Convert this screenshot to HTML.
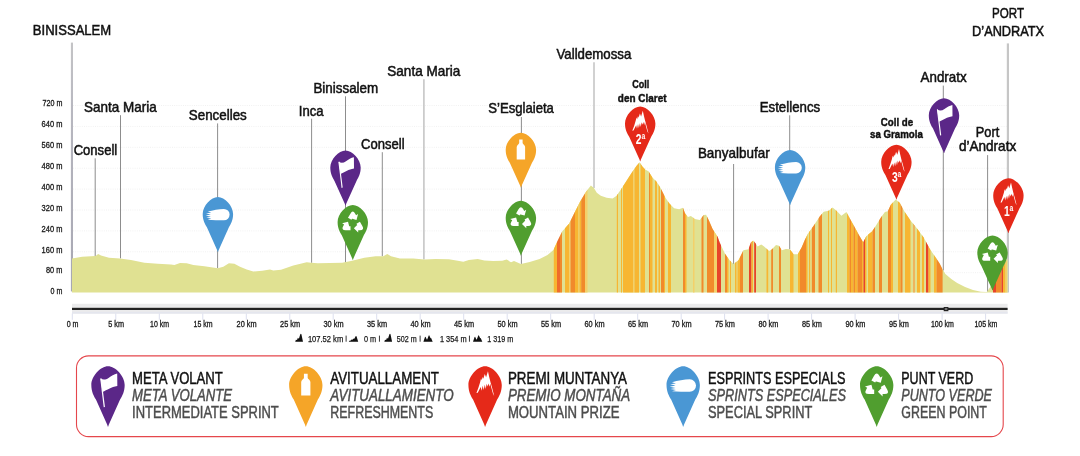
<!DOCTYPE html>
<html lang="ca"><head><meta charset="utf-8"><title>Perfil etapa Binissalem - Port d'Andratx</title>
<style>html,body{margin:0;padding:0;background:#fff}body{width:1080px;height:456px;overflow:hidden}svg{display:block}text{font-family:"Liberation Sans",Arial,sans-serif}</style></head><body>
<svg width="1080" height="456" viewBox="0 0 1080 456">
<defs>
<clipPath id="prof"><polygon points="72.0,258.4 82.2,256.7 95.5,256 98.2,254 101,255.5 109,257.8 120,258.4 131,260 144.4,262.7 157.8,263.8 171,264.4 174.4,265.1 180,262.9 186.7,263.3 193.3,264.9 204.4,266.2 217.8,268.2 223.3,266.7 228.9,263.3 234.4,263.8 240,266.7 246.7,269.6 253.3,271.6 262.2,270.7 270,269.6 273.3,270.4 281,269.8 293.3,265.6 306.7,262.2 311,262.7 317.8,263.3 342.2,262.7 351,261.1 364.4,257.8 375.6,256.2 383.3,256.2 387.3,254 391,256.2 400,258.4 413.3,258.4 424.4,259.6 435.6,258.9 448.9,259.3 457.8,260.7 463.3,261.8 468.9,260 477.8,258.9 484.4,260.4 493.3,261.1 502.2,260.7 506.7,259.6 511,262.2 514,260.9 520.9,263.9 529.7,261.9 539.6,258.9 547.5,255 553.4,250 557.4,241.2 562.3,231.3 569.2,223.4 575.1,211.6 580,201.7 586,191.8 590.9,185.5 593.9,187.9 596.8,192.8 600.8,195.8 606.7,197.8 612.6,198.4 616.6,195.8 620.5,189.9 624.8,183.6 631.7,172.7 636.6,165.8 639.6,162.2 642.6,166.8 645.5,169.7 648.5,171.3 652.4,177.6 656.4,181.6 660.3,187.5 665.3,197.4 669.2,203.3 674.1,208.2 679.1,209.2 683,207.8 685,213.2 688,217.1 690.9,216.1 694.9,219.1 699.8,220.1 703.7,215.1 706.1,214.7 708.7,220.1 712.6,228.9 717.6,236.8 719.7,242.4 724.7,253.3 729.6,260.2 733.6,264.1 738.5,260.2 743.4,250.3 748.4,249.3 750.9,242.4 753.3,240.5 755.7,243.4 757.6,246.4 761.2,244.4 764.1,246.4 769.1,250.9 772,249.3 776,245 779,245.8 781.9,250.3 785.9,248.9 789.8,249.3 793.7,254.3 797.7,254.3 801.6,247.4 805,239.5 808,233.4 813.8,225.5 819.7,216.6 823.7,211.7 828.6,210.7 832.6,207.4 836.5,210.7 841.4,215.7 846.4,212.1 849.3,217.6 854.3,226.5 859.2,235.4 863.2,242.3 866.1,236.4 869.1,233.8 872,231.4 876,225.5 880.9,217.6 884.9,212.1 887.8,211.3 890.8,204.8 895.7,199.5 899.7,202.8 904.6,211.7 910.5,220.6 915.5,226.5 920,232.4 923.7,237.6 929.6,248.4 935.5,257.3 939.5,263.2 942.4,269.1 945.4,274.1 951.3,279 957.2,283 965.1,286.9 973,289.9 980.9,291.8 986.8,292 993,283 1000,271 1007.8,258.5 1007.8,292.5 72.0,292.5"/></clipPath>
<path id="pin" d="M0,55 Q-0.35,54.7 -0.6,53.4 L-11,30.3 C-13,27 -15.2,23 -15.2,17 C-15.2,9 -6.8,0 0,0 C6.8,0 15.2,9 15.2,17 C15.2,23 13,27 11,30.3 L0.6,53.4 Q0.35,54.7 0,55Z"/>
<g id="ic-flag" fill="#fff"><path d="M-7.1,11.3 L-6,11 L-2.8,37 L-3.9,37.3Z"/><path d="M-6.7,11.2 C-4.5,12.6 -2,12.4 0.5,10.6 C3,8.8 5.5,7.2 8.4,6.6 L8.5,18 C5.5,18.6 3.4,19.2 1.5,20.2 C-1,21.4 -3,22.4 -5,23.4Z"/></g>
<g id="ic-bottle" fill="#fff"><path d="M-1.7,6.8 h3.4 v3.6 c0,1.2 2.5,2 2.5,4 v12.3 h-8.4 v-12.3 c0,-2 2.5,-2.8 2.5,-4Z"/></g>
<g id="ic-comet" fill="#fff"><path d="M6,11.9 a5.7,5.7 0 0 1 0,11.4 C1,23.3 -5,23.2 -10.2,22.8 L-6.6,21.6 L-11.6,20.7 L-7,19.7 L-12.2,18.6 L-7,17.6 L-11.9,16.4 L-6.6,15.6 L-10.2,14.5 C-5,13.2 1,11.9 6,11.9Z"/></g>
<g id="ic-mount" fill="#fff"><path d="M2.6,4.4 L3.8,9.9 L5,14.7 L6.2,18.9 L8.3,27 L7.2,25 L5.8,20 L4.7,15.9 L3.95,18.6 L3.05,15.6 L2.15,18.3 L1.4,15.8 L0.6,20.6 L-0.3,16.8 L-1.3,21.6 L-2.2,17.7 L-3.2,22.4 L-4.0,18.9 L-6.7,24.2 L-7.9,24.4 L-6.1,19.5 L-4.6,14.7 L-3.7,11.1 L-3.1,12.8 L-2.2,9.7 L-1.6,11.4 L-0.3,7.1 L0.9,10Z"/></g>
<g id="ic-rec" fill="#fff"><path d="M-4.83,12.87L-2.40,8.66Q0.00,4.50 2.40,8.66L3.28,10.18L5.27,9.03L3.70,14.91L-2.17,13.33L-0.18,12.18L0.00,12.50L-1.37,14.87ZM7.12,16.83L9.55,21.04Q11.95,25.20 7.15,25.20L5.39,25.20L5.39,27.50L1.09,23.20L5.39,18.90L5.39,21.20L5.02,21.20L3.66,18.83ZM-2.29,25.20L-7.15,25.20Q-11.95,25.20 -9.55,21.04L-8.67,19.52L-10.66,18.37L-4.79,16.79L-3.21,22.67L-5.21,21.52L-5.02,21.20L-2.29,21.20Z"/></g>
</defs>
<rect width="1080" height="456" fill="#fff"/>
<line x1="73" x2="1007" y1="105.5" y2="105.5" stroke="#f1f1f1" stroke-width="1" stroke-dasharray="1,1.2"/>
<line x1="73" x2="1007" y1="126.4" y2="126.4" stroke="#f1f1f1" stroke-width="1" stroke-dasharray="1,1.2"/>
<line x1="73" x2="1007" y1="147.3" y2="147.3" stroke="#f1f1f1" stroke-width="1" stroke-dasharray="1,1.2"/>
<line x1="73" x2="1007" y1="168.2" y2="168.2" stroke="#f1f1f1" stroke-width="1" stroke-dasharray="1,1.2"/>
<line x1="73" x2="1007" y1="189.1" y2="189.1" stroke="#f1f1f1" stroke-width="1" stroke-dasharray="1,1.2"/>
<line x1="73" x2="1007" y1="210.0" y2="210.0" stroke="#f1f1f1" stroke-width="1" stroke-dasharray="1,1.2"/>
<line x1="73" x2="1007" y1="230.9" y2="230.9" stroke="#f1f1f1" stroke-width="1" stroke-dasharray="1,1.2"/>
<line x1="73" x2="1007" y1="251.8" y2="251.8" stroke="#f1f1f1" stroke-width="1" stroke-dasharray="1,1.2"/>
<line x1="73" x2="1007" y1="272.7" y2="272.7" stroke="#f1f1f1" stroke-width="1" stroke-dasharray="1,1.2"/>
<linearGradient id="sl" x1="0" y1="42" x2="0" y2="292" gradientUnits="userSpaceOnUse"><stop offset="0" stop-color="#c4c4c6"/><stop offset="0.25" stop-color="#b8b8c0"/><stop offset="1" stop-color="#a6a6b2"/></linearGradient>
<rect x="70.9" y="42.6" width="2.1" height="248.8" fill="url(#sl)"/>
<line x1="423.9" x2="423.9" y1="79.3" y2="259.5" stroke="#c6c6c6" stroke-width="1.6"/>
<line x1="594" x2="594" y1="62.3" y2="188" stroke="#c6c6c6" stroke-width="1.6"/>
<line x1="1007.9" x2="1007.9" y1="43.4" y2="292.5" stroke="#c6c6c6" stroke-width="2.2"/>
<line x1="95.2" x2="95.2" y1="158.3" y2="256" stroke="#707070" stroke-width="0.8"/>
<line x1="120.5" x2="120.5" y1="115.2" y2="258.4" stroke="#707070" stroke-width="0.8"/>
<line x1="217.6" x2="217.6" y1="123.4" y2="268.2" stroke="#707070" stroke-width="0.8"/>
<line x1="311.6" x2="311.6" y1="118.7" y2="262.8" stroke="#707070" stroke-width="0.8"/>
<line x1="345.5" x2="345.5" y1="96.3" y2="262.6" stroke="#707070" stroke-width="0.8"/>
<line x1="382.3" x2="382.3" y1="152.2" y2="256.2" stroke="#707070" stroke-width="0.8"/>
<line x1="521.4" x2="521.4" y1="117" y2="263.9" stroke="#707070" stroke-width="0.8"/>
<line x1="733.6" x2="733.6" y1="164" y2="264.1" stroke="#707070" stroke-width="0.8"/>
<line x1="789.7" x2="789.7" y1="115.3" y2="249.3" stroke="#707070" stroke-width="0.8"/>
<line x1="943.3" x2="943.3" y1="85.6" y2="270.5" stroke="#707070" stroke-width="0.8"/>
<line x1="987.6" x2="987.6" y1="155.1" y2="292" stroke="#707070" stroke-width="0.8"/>
<polygon points="72.0,258.4 82.2,256.7 95.5,256 98.2,254 101,255.5 109,257.8 120,258.4 131,260 144.4,262.7 157.8,263.8 171,264.4 174.4,265.1 180,262.9 186.7,263.3 193.3,264.9 204.4,266.2 217.8,268.2 223.3,266.7 228.9,263.3 234.4,263.8 240,266.7 246.7,269.6 253.3,271.6 262.2,270.7 270,269.6 273.3,270.4 281,269.8 293.3,265.6 306.7,262.2 311,262.7 317.8,263.3 342.2,262.7 351,261.1 364.4,257.8 375.6,256.2 383.3,256.2 387.3,254 391,256.2 400,258.4 413.3,258.4 424.4,259.6 435.6,258.9 448.9,259.3 457.8,260.7 463.3,261.8 468.9,260 477.8,258.9 484.4,260.4 493.3,261.1 502.2,260.7 506.7,259.6 511,262.2 514,260.9 520.9,263.9 529.7,261.9 539.6,258.9 547.5,255 553.4,250 557.4,241.2 562.3,231.3 569.2,223.4 575.1,211.6 580,201.7 586,191.8 590.9,185.5 593.9,187.9 596.8,192.8 600.8,195.8 606.7,197.8 612.6,198.4 616.6,195.8 620.5,189.9 624.8,183.6 631.7,172.7 636.6,165.8 639.6,162.2 642.6,166.8 645.5,169.7 648.5,171.3 652.4,177.6 656.4,181.6 660.3,187.5 665.3,197.4 669.2,203.3 674.1,208.2 679.1,209.2 683,207.8 685,213.2 688,217.1 690.9,216.1 694.9,219.1 699.8,220.1 703.7,215.1 706.1,214.7 708.7,220.1 712.6,228.9 717.6,236.8 719.7,242.4 724.7,253.3 729.6,260.2 733.6,264.1 738.5,260.2 743.4,250.3 748.4,249.3 750.9,242.4 753.3,240.5 755.7,243.4 757.6,246.4 761.2,244.4 764.1,246.4 769.1,250.9 772,249.3 776,245 779,245.8 781.9,250.3 785.9,248.9 789.8,249.3 793.7,254.3 797.7,254.3 801.6,247.4 805,239.5 808,233.4 813.8,225.5 819.7,216.6 823.7,211.7 828.6,210.7 832.6,207.4 836.5,210.7 841.4,215.7 846.4,212.1 849.3,217.6 854.3,226.5 859.2,235.4 863.2,242.3 866.1,236.4 869.1,233.8 872,231.4 876,225.5 880.9,217.6 884.9,212.1 887.8,211.3 890.8,204.8 895.7,199.5 899.7,202.8 904.6,211.7 910.5,220.6 915.5,226.5 920,232.4 923.7,237.6 929.6,248.4 935.5,257.3 939.5,263.2 942.4,269.1 945.4,274.1 951.3,279 957.2,283 965.1,286.9 973,289.9 980.9,291.8 986.8,292 993,283 1000,271 1007.8,258.5 1007.8,292.5 72.0,292.5" fill="#e0e192"/>
<g clip-path="url(#prof)">
<rect x="553.8" y="150" width="3.20" height="143" fill="#f7b632"/>
<rect x="557" y="150" width="3.00" height="143" fill="#ee6c2b"/>
<rect x="560" y="150" width="2.00" height="143" fill="#f18a2b"/>
<rect x="565" y="150" width="4.00" height="143" fill="#f7b632"/>
<rect x="569" y="150" width="1.50" height="143" fill="#f3d06a"/>
<rect x="570.5" y="150" width="4.50" height="143" fill="#f18a2b"/>
<rect x="575" y="150" width="3.50" height="143" fill="#f7b632"/>
<rect x="578.5" y="150" width="1.00" height="143" fill="#f3d06a"/>
<rect x="579.5" y="150" width="1.70" height="143" fill="#f7b632"/>
<rect x="581.2" y="150" width="3.80" height="143" fill="#f18a2b"/>
<rect x="585" y="150" width="2.50" height="143" fill="#f3d06a"/>
<rect x="616.8" y="150" width="1.20" height="143" fill="#f7b632"/>
<rect x="621" y="150" width="1.00" height="143" fill="#f7b632"/>
<rect x="623" y="150" width="10.00" height="143" fill="#f7b632"/>
<rect x="633" y="150" width="1.50" height="143" fill="#f3d06a"/>
<rect x="634.5" y="150" width="4.50" height="143" fill="#f7b632"/>
<rect x="640.5" y="150" width="4.50" height="143" fill="#f7b632"/>
<rect x="649" y="150" width="1.00" height="143" fill="#f18a2b"/>
<rect x="650" y="150" width="2.50" height="143" fill="#f7b632"/>
<rect x="655" y="150" width="2.00" height="143" fill="#f7b632"/>
<rect x="658.5" y="150" width="1.50" height="143" fill="#f7b632"/>
<rect x="661" y="150" width="3.00" height="143" fill="#f18a2b"/>
<rect x="664" y="150" width="1.00" height="143" fill="#f7b632"/>
<rect x="668" y="150" width="3.00" height="143" fill="#f7b632"/>
<rect x="683" y="150" width="2.00" height="143" fill="#f18a2b"/>
<rect x="685" y="150" width="1.50" height="143" fill="#f7b632"/>
<rect x="693" y="150" width="1.50" height="143" fill="#f3d06a"/>
<rect x="701.5" y="150" width="2.00" height="143" fill="#f18a2b"/>
<rect x="707" y="150" width="7.00" height="143" fill="#f18a2b"/>
<rect x="714" y="150" width="3.00" height="143" fill="#f3d06a"/>
<rect x="717" y="150" width="4.00" height="143" fill="#e8432a"/>
<rect x="725" y="150" width="2.00" height="143" fill="#f18a2b"/>
<rect x="727" y="150" width="1.50" height="143" fill="#f7b632"/>
<rect x="730" y="150" width="1.00" height="143" fill="#f7b632"/>
<rect x="735" y="150" width="1.50" height="143" fill="#f7b632"/>
<rect x="737.5" y="150" width="2.50" height="143" fill="#f7b632"/>
<rect x="740" y="150" width="3.00" height="143" fill="#f18a2b"/>
<rect x="749" y="150" width="2.50" height="143" fill="#e8432a"/>
<rect x="751.5" y="150" width="1.50" height="143" fill="#f7b632"/>
<rect x="754.2" y="150" width="1.80" height="143" fill="#e8432a"/>
<rect x="766.5" y="150" width="1.70" height="143" fill="#f7b632"/>
<rect x="771.2" y="150" width="1.80" height="143" fill="#f18a2b"/>
<rect x="779" y="150" width="2.00" height="143" fill="#f18a2b"/>
<rect x="790" y="150" width="3.50" height="143" fill="#f7b632"/>
<rect x="798" y="150" width="2.00" height="143" fill="#f7b632"/>
<rect x="800" y="150" width="6.00" height="143" fill="#f18a2b"/>
<rect x="806" y="150" width="1.50" height="143" fill="#f7b632"/>
<rect x="809" y="150" width="1.20" height="143" fill="#f7b632"/>
<rect x="811.8" y="150" width="3.20" height="143" fill="#f18a2b"/>
<rect x="818.5" y="150" width="3.50" height="143" fill="#f18a2b"/>
<rect x="828" y="150" width="1.00" height="143" fill="#f7b632"/>
<rect x="831" y="150" width="1.00" height="143" fill="#f7b632"/>
<rect x="835.8" y="150" width="1.20" height="143" fill="#f7b632"/>
<rect x="847" y="150" width="2.50" height="143" fill="#f7b632"/>
<rect x="849.5" y="150" width="1.50" height="143" fill="#f18a2b"/>
<rect x="851" y="150" width="2.50" height="143" fill="#f7b632"/>
<rect x="853.5" y="150" width="1.50" height="143" fill="#f18a2b"/>
<rect x="855" y="150" width="2.50" height="143" fill="#f7b632"/>
<rect x="857.5" y="150" width="4.50" height="143" fill="#f18a2b"/>
<rect x="862" y="150" width="1.50" height="143" fill="#f7b632"/>
<rect x="863.5" y="150" width="1.50" height="143" fill="#e8432a"/>
<rect x="865" y="150" width="1.50" height="143" fill="#f7b632"/>
<rect x="868" y="150" width="4.50" height="143" fill="#f7b632"/>
<rect x="872.5" y="150" width="2.50" height="143" fill="#f18a2b"/>
<rect x="879" y="150" width="3.00" height="143" fill="#f18a2b"/>
<rect x="888" y="150" width="3.00" height="143" fill="#f18a2b"/>
<rect x="891" y="150" width="2.00" height="143" fill="#f7b632"/>
<rect x="898" y="150" width="2.50" height="143" fill="#f7b632"/>
<rect x="900.5" y="150" width="2.00" height="143" fill="#f18a2b"/>
<rect x="905" y="150" width="5.50" height="143" fill="#f7b632"/>
<rect x="913" y="150" width="2.00" height="143" fill="#eeb45e"/>
<rect x="917" y="150" width="3.00" height="143" fill="#f7b632"/>
<rect x="922" y="150" width="2.00" height="143" fill="#f7b632"/>
<rect x="926" y="150" width="2.50" height="143" fill="#e8432a"/>
<rect x="928.5" y="150" width="2.00" height="143" fill="#f7b632"/>
<rect x="934" y="150" width="2.50" height="143" fill="#f7b632"/>
<rect x="936.5" y="150" width="6.10" height="143" fill="#f18a2b"/>
<rect x="993" y="150" width="3.00" height="143" fill="#e8432a"/>
<rect x="996" y="150" width="5.50" height="143" fill="#f18a2b"/>
<rect x="1001.5" y="150" width="1.50" height="143" fill="#e8432a"/>
<rect x="1003" y="150" width="2.50" height="143" fill="#f7b632"/>
<rect x="1005.5" y="150" width="1.50" height="143" fill="#f3d06a"/>
</g>
<text x="62.4" y="106.4" font-size="8.3" text-anchor="end" textLength="19.8" lengthAdjust="spacingAndGlyphs" fill="#1a1a1a" stroke="#1a1a1a" stroke-width="0.3">720 m</text>
<text x="62.4" y="127.3" font-size="8.3" text-anchor="end" textLength="20.8" lengthAdjust="spacingAndGlyphs" fill="#1a1a1a" stroke="#1a1a1a" stroke-width="0.3">640 m</text>
<text x="62.4" y="148.1" font-size="8.3" text-anchor="end" textLength="20.8" lengthAdjust="spacingAndGlyphs" fill="#1a1a1a" stroke="#1a1a1a" stroke-width="0.3">560 m</text>
<text x="62.4" y="169.0" font-size="8.3" text-anchor="end" textLength="20.8" lengthAdjust="spacingAndGlyphs" fill="#1a1a1a" stroke="#1a1a1a" stroke-width="0.3">480 m</text>
<text x="62.4" y="189.9" font-size="8.3" text-anchor="end" textLength="20.8" lengthAdjust="spacingAndGlyphs" fill="#1a1a1a" stroke="#1a1a1a" stroke-width="0.3">400 m</text>
<text x="62.4" y="210.8" font-size="8.3" text-anchor="end" textLength="20.8" lengthAdjust="spacingAndGlyphs" fill="#1a1a1a" stroke="#1a1a1a" stroke-width="0.3">320 m</text>
<text x="62.4" y="231.6" font-size="8.3" text-anchor="end" textLength="20.8" lengthAdjust="spacingAndGlyphs" fill="#1a1a1a" stroke="#1a1a1a" stroke-width="0.3">240 m</text>
<text x="62.4" y="252.5" font-size="8.3" text-anchor="end" textLength="20.8" lengthAdjust="spacingAndGlyphs" fill="#1a1a1a" stroke="#1a1a1a" stroke-width="0.3">160 m</text>
<text x="62.4" y="273.4" font-size="8.3" text-anchor="end" textLength="16.4" lengthAdjust="spacingAndGlyphs" fill="#1a1a1a" stroke="#1a1a1a" stroke-width="0.3">80 m</text>
<text x="62.4" y="294.2" font-size="8.3" text-anchor="end" textLength="11.8" lengthAdjust="spacingAndGlyphs" fill="#1a1a1a" stroke="#1a1a1a" stroke-width="0.3">0 m</text>
<rect x="72" y="303.8" width="935.6" height="9.8" fill="#ebebec"/>
<rect x="72" y="311.8" width="935.6" height="1.8" fill="#e4e6ee"/>
<rect x="72" y="307.8" width="935.6" height="2.2" fill="#222"/>
<rect x="943.7" y="307" width="4.7" height="4.2" fill="#222"/><rect x="944.8" y="308.4" width="2.5" height="1.2" fill="#aaa"/>
<line x1="72.3" x2="72.3" y1="313.5" y2="319.8" stroke="#dcdfee" stroke-width="1"/>
<text x="72.6" y="326.8" font-size="8.3" text-anchor="middle" textLength="11.8" lengthAdjust="spacingAndGlyphs" fill="#1a1a1a" stroke="#1a1a1a" stroke-width="0.3">0 m</text>
<line x1="115.8" x2="115.8" y1="313.5" y2="319.8" stroke="#dcdfee" stroke-width="1"/>
<text x="116.1" y="326.8" font-size="8.3" text-anchor="middle" textLength="15.8" lengthAdjust="spacingAndGlyphs" fill="#1a1a1a" stroke="#1a1a1a" stroke-width="0.3">5 km</text>
<line x1="159.3" x2="159.3" y1="313.5" y2="319.8" stroke="#dcdfee" stroke-width="1"/>
<text x="159.6" y="326.8" font-size="8.3" text-anchor="middle" textLength="19.0" lengthAdjust="spacingAndGlyphs" fill="#1a1a1a" stroke="#1a1a1a" stroke-width="0.3">10 km</text>
<line x1="202.8" x2="202.8" y1="313.5" y2="319.8" stroke="#dcdfee" stroke-width="1"/>
<text x="203.1" y="326.8" font-size="8.3" text-anchor="middle" textLength="19.0" lengthAdjust="spacingAndGlyphs" fill="#1a1a1a" stroke="#1a1a1a" stroke-width="0.3">15 km</text>
<line x1="246.3" x2="246.3" y1="313.5" y2="319.8" stroke="#dcdfee" stroke-width="1"/>
<text x="246.6" y="326.8" font-size="8.3" text-anchor="middle" textLength="20.0" lengthAdjust="spacingAndGlyphs" fill="#1a1a1a" stroke="#1a1a1a" stroke-width="0.3">20 km</text>
<line x1="289.8" x2="289.8" y1="313.5" y2="319.8" stroke="#dcdfee" stroke-width="1"/>
<text x="290.1" y="326.8" font-size="8.3" text-anchor="middle" textLength="20.0" lengthAdjust="spacingAndGlyphs" fill="#1a1a1a" stroke="#1a1a1a" stroke-width="0.3">25 km</text>
<line x1="333.2" x2="333.2" y1="313.5" y2="319.8" stroke="#dcdfee" stroke-width="1"/>
<text x="333.5" y="326.8" font-size="8.3" text-anchor="middle" textLength="20.0" lengthAdjust="spacingAndGlyphs" fill="#1a1a1a" stroke="#1a1a1a" stroke-width="0.3">30 km</text>
<line x1="376.7" x2="376.7" y1="313.5" y2="319.8" stroke="#dcdfee" stroke-width="1"/>
<text x="377.0" y="326.8" font-size="8.3" text-anchor="middle" textLength="20.0" lengthAdjust="spacingAndGlyphs" fill="#1a1a1a" stroke="#1a1a1a" stroke-width="0.3">35 km</text>
<line x1="420.2" x2="420.2" y1="313.5" y2="319.8" stroke="#dcdfee" stroke-width="1"/>
<text x="420.5" y="326.8" font-size="8.3" text-anchor="middle" textLength="20.0" lengthAdjust="spacingAndGlyphs" fill="#1a1a1a" stroke="#1a1a1a" stroke-width="0.3">40 km</text>
<line x1="463.7" x2="463.7" y1="313.5" y2="319.8" stroke="#dcdfee" stroke-width="1"/>
<text x="464.0" y="326.8" font-size="8.3" text-anchor="middle" textLength="20.0" lengthAdjust="spacingAndGlyphs" fill="#1a1a1a" stroke="#1a1a1a" stroke-width="0.3">45 km</text>
<line x1="507.2" x2="507.2" y1="313.5" y2="319.8" stroke="#dcdfee" stroke-width="1"/>
<text x="507.5" y="326.8" font-size="8.3" text-anchor="middle" textLength="20.0" lengthAdjust="spacingAndGlyphs" fill="#1a1a1a" stroke="#1a1a1a" stroke-width="0.3">50 km</text>
<line x1="550.7" x2="550.7" y1="313.5" y2="319.8" stroke="#dcdfee" stroke-width="1"/>
<text x="551.0" y="326.8" font-size="8.3" text-anchor="middle" textLength="20.0" lengthAdjust="spacingAndGlyphs" fill="#1a1a1a" stroke="#1a1a1a" stroke-width="0.3">55 km</text>
<line x1="594.2" x2="594.2" y1="313.5" y2="319.8" stroke="#dcdfee" stroke-width="1"/>
<text x="594.5" y="326.8" font-size="8.3" text-anchor="middle" textLength="20.0" lengthAdjust="spacingAndGlyphs" fill="#1a1a1a" stroke="#1a1a1a" stroke-width="0.3">60 km</text>
<line x1="637.7" x2="637.7" y1="313.5" y2="319.8" stroke="#dcdfee" stroke-width="1"/>
<text x="638.0" y="326.8" font-size="8.3" text-anchor="middle" textLength="20.0" lengthAdjust="spacingAndGlyphs" fill="#1a1a1a" stroke="#1a1a1a" stroke-width="0.3">65 km</text>
<line x1="681.2" x2="681.2" y1="313.5" y2="319.8" stroke="#dcdfee" stroke-width="1"/>
<text x="681.5" y="326.8" font-size="8.3" text-anchor="middle" textLength="20.0" lengthAdjust="spacingAndGlyphs" fill="#1a1a1a" stroke="#1a1a1a" stroke-width="0.3">70 km</text>
<line x1="724.6" x2="724.6" y1="313.5" y2="319.8" stroke="#dcdfee" stroke-width="1"/>
<text x="724.9" y="326.8" font-size="8.3" text-anchor="middle" textLength="20.0" lengthAdjust="spacingAndGlyphs" fill="#1a1a1a" stroke="#1a1a1a" stroke-width="0.3">75 km</text>
<line x1="768.1" x2="768.1" y1="313.5" y2="319.8" stroke="#dcdfee" stroke-width="1"/>
<text x="768.4" y="326.8" font-size="8.3" text-anchor="middle" textLength="20.0" lengthAdjust="spacingAndGlyphs" fill="#1a1a1a" stroke="#1a1a1a" stroke-width="0.3">80 km</text>
<line x1="811.6" x2="811.6" y1="313.5" y2="319.8" stroke="#dcdfee" stroke-width="1"/>
<text x="811.9" y="326.8" font-size="8.3" text-anchor="middle" textLength="20.0" lengthAdjust="spacingAndGlyphs" fill="#1a1a1a" stroke="#1a1a1a" stroke-width="0.3">85 km</text>
<line x1="855.1" x2="855.1" y1="313.5" y2="319.8" stroke="#dcdfee" stroke-width="1"/>
<text x="855.4" y="326.8" font-size="8.3" text-anchor="middle" textLength="20.0" lengthAdjust="spacingAndGlyphs" fill="#1a1a1a" stroke="#1a1a1a" stroke-width="0.3">90 km</text>
<line x1="898.6" x2="898.6" y1="313.5" y2="319.8" stroke="#dcdfee" stroke-width="1"/>
<text x="898.9" y="326.8" font-size="8.3" text-anchor="middle" textLength="20.0" lengthAdjust="spacingAndGlyphs" fill="#1a1a1a" stroke="#1a1a1a" stroke-width="0.3">95 km</text>
<line x1="942.1" x2="942.1" y1="313.5" y2="319.8" stroke="#dcdfee" stroke-width="1"/>
<text x="942.4" y="326.8" font-size="8.3" text-anchor="middle" textLength="23.0" lengthAdjust="spacingAndGlyphs" fill="#1a1a1a" stroke="#1a1a1a" stroke-width="0.3">100 km</text>
<line x1="985.6" x2="985.6" y1="313.5" y2="319.8" stroke="#dcdfee" stroke-width="1"/>
<text x="985.9" y="326.8" font-size="8.3" text-anchor="middle" textLength="23.0" lengthAdjust="spacingAndGlyphs" fill="#1a1a1a" stroke="#1a1a1a" stroke-width="0.3">105 km</text>
<path d="M295.2,341.7 l0.7,-1.9 l1.1,0.3 l0.9,-2.3 l1,0.9 l1.4,-4.4 l0.6,-0.5 l0.5,0.5 l1.6,7.4Z" fill="#111"/><path d="M348.8,341.7 l0.5,-0.9 l1.2,0 l0.7,-1.3 l1,0.5 l0.9,-1.3 l1.2,0.1 l1.5,-2.8 l0.7,0.2 l1.7,5.5Z" fill="#111"/><path d="M384.3,341.7 l0.7,-1.9 l1.1,0.3 l0.9,-2.3 l1,0.9 l1.4,-4.4 l0.6,-0.5 l0.5,0.5 l1.6,7.4Z" fill="#111"/><path d="M423.4,341.7 l1.6,-4.6 l0.5,-0.3 l1.3,2.6 l0.4,0 l1.5,-3.9 l0.5,-0.2 l1.4,2.9 l0.5,-0.2 l1.6,3.7Z" fill="#111"/><path d="M473,341.7 l1.6,-4.6 l0.5,-0.3 l1.3,2.6 l0.4,0 l1.5,-3.9 l0.5,-0.2 l1.4,2.9 l0.5,-0.2 l1.6,3.7Z" fill="#111"/>
<text x="307.9" y="341.7" font-size="8.6" textLength="35.3" lengthAdjust="spacingAndGlyphs" fill="#1a1a1a" stroke="#1a1a1a" stroke-width="0.25">107.52 km</text>
<text x="363.9" y="341.7" font-size="8.6" textLength="12.2" lengthAdjust="spacingAndGlyphs" fill="#1a1a1a" stroke="#1a1a1a" stroke-width="0.25">0 m</text>
<text x="396.8" y="341.7" font-size="8.6" textLength="19.8" lengthAdjust="spacingAndGlyphs" fill="#1a1a1a" stroke="#1a1a1a" stroke-width="0.25">502 m</text>
<text x="439.9" y="341.7" font-size="8.6" textLength="26.7" lengthAdjust="spacingAndGlyphs" fill="#1a1a1a" stroke="#1a1a1a" stroke-width="0.25">1 354 m</text>
<text x="487.2" y="341.7" font-size="8.6" textLength="26.0" lengthAdjust="spacingAndGlyphs" fill="#1a1a1a" stroke="#1a1a1a" stroke-width="0.25">1 319 m</text>
<rect x="345.65000000000003" y="335.6" width="0.9" height="6.1" fill="#222"/>
<rect x="378.95" y="335.6" width="0.9" height="6.1" fill="#222"/>
<rect x="419.65000000000003" y="335.6" width="0.9" height="6.1" fill="#222"/>
<rect x="468.95" y="335.6" width="0.9" height="6.1" fill="#222"/>
<text x="32.8" y="34.5" font-size="14.6" font-weight="normal" textLength="78.4" lengthAdjust="spacingAndGlyphs" fill="#111" stroke="#111" stroke-width="0.5">BINISSALEM</text>
<text x="73.7" y="154.7" font-size="14.2" font-weight="normal" textLength="43.5" lengthAdjust="spacingAndGlyphs" fill="#111" stroke="#111" stroke-width="0.5">Consell</text>
<text x="84.1" y="111.5" font-size="14.2" font-weight="normal" textLength="72.7" lengthAdjust="spacingAndGlyphs" fill="#111" stroke="#111" stroke-width="0.5">Santa Maria</text>
<text x="188.8" y="119.6" font-size="14.2" font-weight="normal" textLength="58.0" lengthAdjust="spacingAndGlyphs" fill="#111" stroke="#111" stroke-width="0.5">Sencelles</text>
<text x="298.8" y="115.7" font-size="14.2" font-weight="normal" textLength="24.8" lengthAdjust="spacingAndGlyphs" fill="#111" stroke="#111" stroke-width="0.5">Inca</text>
<text x="313.4" y="92.5" font-size="14.2" font-weight="normal" textLength="64.8" lengthAdjust="spacingAndGlyphs" fill="#111" stroke="#111" stroke-width="0.5">Binissalem</text>
<text x="361.1" y="148.7" font-size="14.2" font-weight="normal" textLength="43.5" lengthAdjust="spacingAndGlyphs" fill="#111" stroke="#111" stroke-width="0.5">Consell</text>
<text x="387.3" y="75.8" font-size="14.2" font-weight="normal" textLength="73.0" lengthAdjust="spacingAndGlyphs" fill="#111" stroke="#111" stroke-width="0.5">Santa Maria</text>
<text x="488.3" y="113.2" font-size="14.2" font-weight="normal" textLength="65.6" lengthAdjust="spacingAndGlyphs" fill="#111" stroke="#111" stroke-width="0.5">S’Esglaieta</text>
<text x="556.5" y="58.75" font-size="14.2" font-weight="normal" textLength="74.8" lengthAdjust="spacingAndGlyphs" fill="#111" stroke="#111" stroke-width="0.5">Valldemossa</text>
<text x="632.2" y="88.1" font-size="11.6" font-weight="bold" textLength="17.0" lengthAdjust="spacingAndGlyphs" fill="#111" stroke="#111" stroke-width="0.45">Coll</text>
<text x="617.8" y="101.9" font-size="11.6" font-weight="bold" textLength="48.7" lengthAdjust="spacingAndGlyphs" fill="#111" stroke="#111" stroke-width="0.45">den Claret</text>
<text x="697.9" y="157.7" font-size="14.2" font-weight="normal" textLength="71.8" lengthAdjust="spacingAndGlyphs" fill="#111" stroke="#111" stroke-width="0.5">Banyalbufar</text>
<text x="759.7" y="111.7" font-size="14.2" font-weight="normal" textLength="60.5" lengthAdjust="spacingAndGlyphs" fill="#111" stroke="#111" stroke-width="0.5">Estellencs</text>
<text x="880.8" y="126.1" font-size="11.6" font-weight="bold" textLength="32.3" lengthAdjust="spacingAndGlyphs" fill="#111" stroke="#111" stroke-width="0.45">Coll de</text>
<text x="870" y="137.9" font-size="11.6" font-weight="bold" textLength="52.8" lengthAdjust="spacingAndGlyphs" fill="#111" stroke="#111" stroke-width="0.45">sa Gramola</text>
<text x="920.6" y="81.5" font-size="14.2" font-weight="normal" textLength="46.0" lengthAdjust="spacingAndGlyphs" fill="#111" stroke="#111" stroke-width="0.5">Andratx</text>
<text x="975.8" y="136.6" font-size="14.2" font-weight="normal" textLength="23.5" lengthAdjust="spacingAndGlyphs" fill="#111" stroke="#111" stroke-width="0.5">Port</text>
<text x="958.9" y="150.7" font-size="14.2" font-weight="normal" textLength="57.3" lengthAdjust="spacingAndGlyphs" fill="#111" stroke="#111" stroke-width="0.5">d’Andratx</text>
<text x="992.1" y="17.7" font-size="14.6" font-weight="normal" textLength="32.0" lengthAdjust="spacingAndGlyphs" fill="#111" stroke="#111" stroke-width="0.5">PORT</text>
<text x="972.1" y="36.1" font-size="14.6" font-weight="normal" textLength="72.0" lengthAdjust="spacingAndGlyphs" fill="#111" stroke="#111" stroke-width="0.5">D’ANDRATX</text>
<g transform="translate(217.9,197.0) scale(1.0)"><use href="#pin" fill="#4a97d4"/><use href="#ic-comet"/></g>
<g transform="translate(345.5,150.6) scale(1.0)"><use href="#pin" fill="#5b2788"/><use href="#ic-flag"/></g>
<g transform="translate(352.8,205) scale(1.0)"><use href="#pin" fill="#509e2f"/><use href="#ic-rec"/></g>
<g transform="translate(520.9,132.7) scale(1.0)"><use href="#pin" fill="#f5a528"/><use href="#ic-bottle"/></g>
<g transform="translate(520.9,200.7) scale(1.0)"><use href="#pin" fill="#509e2f"/><use href="#ic-rec"/></g>
<g transform="translate(640.2,106.4) scale(1.0)"><use href="#pin" fill="#e52919"/><use href="#ic-mount"/><text x="-4.5" y="37.8" font-size="13.8" font-weight="bold" fill="#fff" textLength="9.5" lengthAdjust="spacingAndGlyphs">2ª</text></g>
<g transform="translate(790.1,150.1) scale(1.0)"><use href="#pin" fill="#4a97d4"/><use href="#ic-comet"/></g>
<g transform="translate(896.4,144.7) scale(1.0)"><use href="#pin" fill="#e52919"/><use href="#ic-mount"/><text x="-4.5" y="37.8" font-size="13.8" font-weight="bold" fill="#fff" textLength="9.5" lengthAdjust="spacingAndGlyphs">3ª</text></g>
<g transform="translate(944,98.3) scale(1.0)"><use href="#pin" fill="#5b2788"/><use href="#ic-flag"/></g>
<g transform="translate(992.5,235.6) scale(1.0)"><use href="#pin" fill="#509e2f"/><use href="#ic-rec"/></g>
<g transform="translate(1008.4,178.2) scale(1.0)"><use href="#pin" fill="#e52919"/><use href="#ic-mount"/><text x="-4.5" y="37.8" font-size="13.8" font-weight="bold" fill="#fff" textLength="9.5" lengthAdjust="spacingAndGlyphs">1ª</text></g>
<rect x="76.5" y="355.9" width="926.7" height="80.7" rx="12" ry="12" fill="#fff" stroke="#e5474c" stroke-width="1.1"/>
<g transform="translate(108,366.3) scale(1.097)"><use href="#pin" fill="#5b2788"/><use href="#ic-flag"/></g>
<text x="132.1" y="383.6" font-size="15.9" textLength="90.7" lengthAdjust="spacingAndGlyphs" fill="#111" stroke="#111" stroke-width="0.45">META VOLANT</text>
<text x="132.1" y="400.9" font-size="15.9" font-style="italic" textLength="99.9" lengthAdjust="spacingAndGlyphs" fill="#4d4d4d" stroke="#4d4d4d" stroke-width="0.45">META VOLANTE</text>
<text x="132.1" y="418.2" font-size="15.9" textLength="146.7" lengthAdjust="spacingAndGlyphs" fill="#4d4d4d" stroke="#4d4d4d" stroke-width="0.45">INTERMEDIATE SPRINT</text>
<g transform="translate(305.8,366.3) scale(1.097)"><use href="#pin" fill="#f5a528"/><use href="#ic-bottle"/></g>
<text x="330.3" y="383.6" font-size="15.9" textLength="108.6" lengthAdjust="spacingAndGlyphs" fill="#111" stroke="#111" stroke-width="0.45">AVITUALLAMENT</text>
<text x="330.3" y="400.9" font-size="15.9" font-style="italic" textLength="123.3" lengthAdjust="spacingAndGlyphs" fill="#4d4d4d" stroke="#4d4d4d" stroke-width="0.45">AVITUALLAMIENTO</text>
<text x="330.3" y="418.2" font-size="15.9" textLength="102.9" lengthAdjust="spacingAndGlyphs" fill="#4d4d4d" stroke="#4d4d4d" stroke-width="0.45">REFRESHMENTS</text>
<g transform="translate(485.1,366.3) scale(1.097)"><use href="#pin" fill="#e52919"/><use href="#ic-mount"/></g>
<text x="507.9" y="383.6" font-size="15.9" textLength="119.1" lengthAdjust="spacingAndGlyphs" fill="#111" stroke="#111" stroke-width="0.45">PREMI MUNTANYA</text>
<text x="507.9" y="400.9" font-size="15.9" font-style="italic" textLength="122.2" lengthAdjust="spacingAndGlyphs" fill="#4d4d4d" stroke="#4d4d4d" stroke-width="0.45">PREMIO MONTAÑA</text>
<text x="507.9" y="418.2" font-size="15.9" textLength="111.6" lengthAdjust="spacingAndGlyphs" fill="#4d4d4d" stroke="#4d4d4d" stroke-width="0.45">MOUNTAIN PRIZE</text>
<g transform="translate(683.2,366.3) scale(1.097)"><use href="#pin" fill="#4a97d4"/><use href="#ic-comet"/></g>
<text x="708" y="383.6" font-size="15.9" textLength="137.5" lengthAdjust="spacingAndGlyphs" fill="#111" stroke="#111" stroke-width="0.45">ESPRINTS ESPECIALS</text>
<text x="708" y="400.9" font-size="15.9" font-style="italic" textLength="137.9" lengthAdjust="spacingAndGlyphs" fill="#4d4d4d" stroke="#4d4d4d" stroke-width="0.45">SPRINTS ESPECIALES</text>
<text x="708" y="418.2" font-size="15.9" textLength="104.3" lengthAdjust="spacingAndGlyphs" fill="#4d4d4d" stroke="#4d4d4d" stroke-width="0.45">SPECIAL SPRINT</text>
<g transform="translate(876.7,366.3) scale(1.097)"><use href="#pin" fill="#509e2f"/><use href="#ic-rec"/></g>
<text x="901.3" y="383.6" font-size="15.9" textLength="71.9" lengthAdjust="spacingAndGlyphs" fill="#111" stroke="#111" stroke-width="0.45">PUNT VERD</text>
<text x="901.3" y="400.9" font-size="15.9" font-style="italic" textLength="90.7" lengthAdjust="spacingAndGlyphs" fill="#4d4d4d" stroke="#4d4d4d" stroke-width="0.45">PUNTO VERDE</text>
<text x="901.3" y="418.2" font-size="15.9" textLength="85.6" lengthAdjust="spacingAndGlyphs" fill="#4d4d4d" stroke="#4d4d4d" stroke-width="0.45">GREEN POINT</text>
</svg></body></html>
